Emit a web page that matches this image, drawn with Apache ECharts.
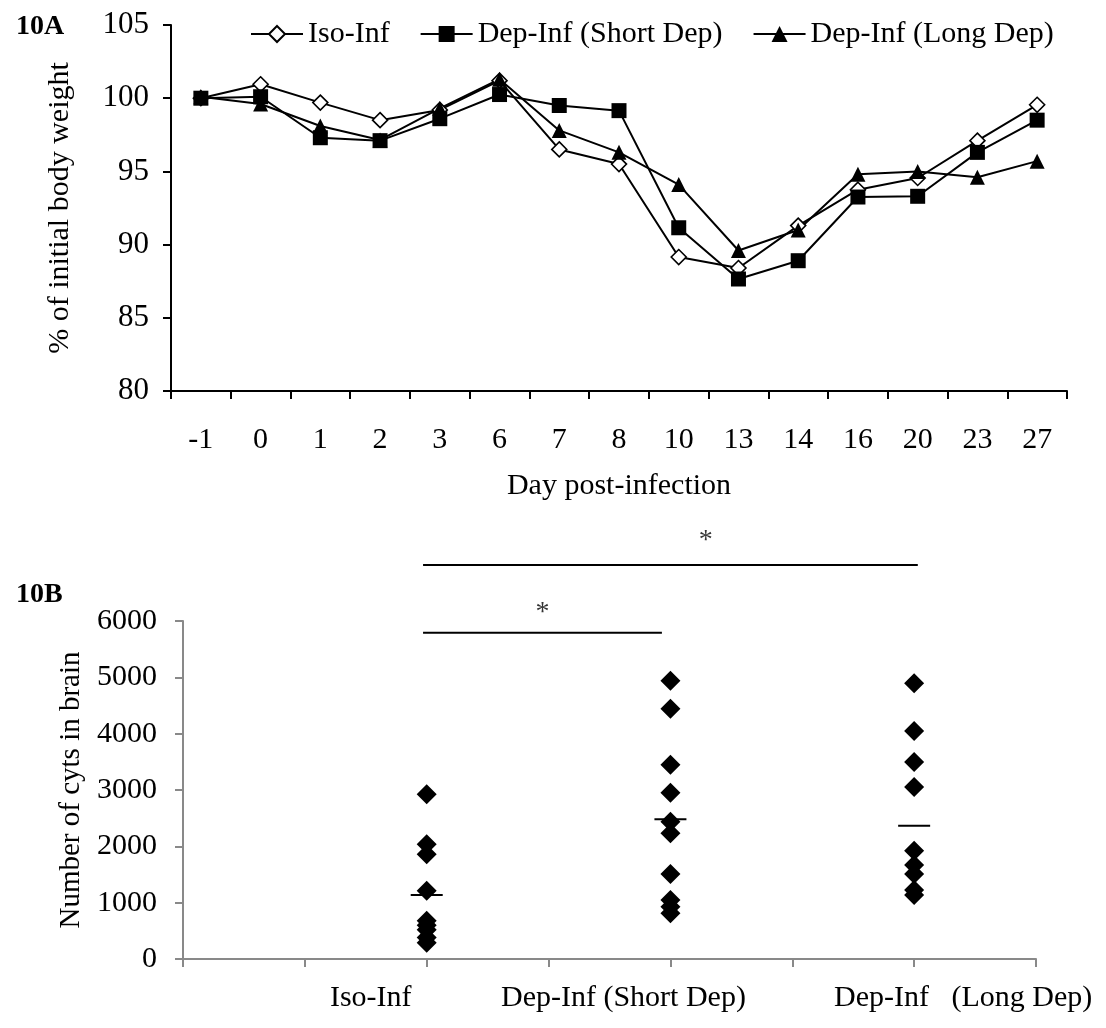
<!DOCTYPE html>
<html lang="en">
<head>
    <meta charset="UTF-8">
    <title>10A / 10B</title>
    <script src="https://cdn.jsdelivr.net/npm/echarts@6/dist/echarts.min.js"></script>
    <style>
        body { margin: 0; background: #fff; }
    </style>
</head>
<body>
    <div id="main" style="width: 1106px; height: 1028px;"></div>
</body>
</html>

<script>
    var FONT = "'Liberation Serif', 'Times New Roman', serif";

    // 10A - body weight
    var days = ['-1', '0', '1', '2', '3', '6', '7', '8', '10', '13', '14', '16', '20', '23', '27'];
    var isoInf = [100.0, 100.95, 99.7, 98.5, 99.2, 101.2, 96.5, 95.5, 89.15, 88.4, 91.3, 93.75, 94.55, 97.1, 99.55];
    var shortDep = [100.0, 100.1, 97.3, 97.1, 98.6, 100.25, 99.5, 99.15, 91.15, 87.65, 88.9, 93.25, 93.3, 96.3, 98.5];
    var longDep = [100.1, 99.6, 98.1, 97.15, 99.3, 101.3, 97.8, 96.3, 94.1, 89.6, 91.0, 94.8, 95.0, 94.6, 95.7];

    // 10B - cysts in brain (x position of each group on the 0..7 axis)
    var groupNames = ['Iso-Inf', 'Dep-Inf (Short Dep)', 'Dep-Inf   (Long Dep)'];
    var groupPos = [2, 4, 6];
    var cystsIso = [2923, 2035, 1858, 1210, 680, 600, 520, 380, 290];
    var cystsShort = [4941, 4444, 3450, 2953, 2438, 2231, 1509, 1047, 929, 811];
    var cystsLong = [4893, 4047, 3497, 3053, 1923, 1669, 1509, 1225, 1136];
    var cystsMean = [1136, 2479, 2367];

    // significance bars: [x from, x to, y]
    var sigBars = [[1.97, 3.93, 5790], [1.97, 6.03, 6994]];
    var sigStars = [[2.95, 6150], [4.29, 7430]];

    var myChart = echarts.init(document.getElementById('main'));

    function groupPoints(idx, values) {
        var out = [];
        for (var i = 0; i < values.length; i++) out.push([groupPos[idx], values[i]]);
        return out;
    }

    var meanPoints = [];
    for (var i = 0; i < cystsMean.length; i++) meanPoints.push([groupPos[i], cystsMean[i]]);

    var sigSeries = sigBars.map(function (b) {
        return {
            type: 'line', xAxisIndex: 1, yAxisIndex: 1, clip: false, silent: true,
            symbol: 'none', lineStyle: { color: '#000', width: 2 },
            data: [[b[0], b[2]], [b[1], b[2]]]
        };
    });

    var option = {
        animation: false,
        textStyle: { fontFamily: FONT, color: '#000' },
        title: [
            { text: '10A', left: 11, top: 8, textStyle: { fontFamily: FONT, fontSize: 28, fontWeight: 'bold', color: '#000' } },
            { text: '10B', left: 11, top: 576, textStyle: { fontFamily: FONT, fontSize: 28, fontWeight: 'bold', color: '#000' } }
        ],
        legend: {
            data: ['Iso-Inf', 'Dep-Inf (Short Dep)', 'Dep-Inf (Long Dep)'],
            left: 245, top: 14,
            itemWidth: 52, itemHeight: 20, itemGap: 30,
            textStyle: { fontFamily: FONT, fontSize: 30, color: '#000' }
        },
        grid: [
            { left: 171, right: 39, top: 25, height: 366 },
            { left: 183, right: 70, top: 621, height: 338 }
        ],
        xAxis: [
            {
                type: 'category', gridIndex: 0, data: days, boundaryGap: true,
                name: 'Day post-infection', nameLocation: 'middle', nameGap: 80,
                nameTextStyle: { fontFamily: FONT, fontSize: 30, color: '#000' },
                axisLine: { lineStyle: { color: '#000', width: 2 } },
                axisTick: { show: true, length: 8, lineStyle: { color: '#000', width: 2 } },
                axisLabel: { fontFamily: FONT, fontSize: 30, color: '#000', margin: 34, interval: 0 },
                splitLine: { show: false }
            },
            {
                type: 'value', gridIndex: 1, min: 0, max: 7, interval: 1,
                axisLine: { lineStyle: { color: '#898989', width: 2 } },
                axisTick: { show: true, length: 8, lineStyle: { color: '#898989', width: 2 } },
                axisLabel: {
                    fontFamily: FONT, fontSize: 30, color: '#000', margin: 24,
                    formatter: function (v) {
                        var k = groupPos.indexOf(v);
                        if (k < 0) return '';
                        return '{g' + k + '|' + groupNames[k] + '}';
                    },
                    rich: {
                        g0: { fontFamily: FONT, fontSize: 30, color: '#000', padding: [0, 112, 0, 0] },
                        g1: { fontFamily: FONT, fontSize: 30, color: '#000', padding: [0, 94, 0, 0] },
                        g2: { fontFamily: FONT, fontSize: 30, color: '#000', padding: [0, 0, 0, 98] }
                    }
                },
                splitLine: { show: false }
            }
        ],
        yAxis: [
            {
                type: 'value', gridIndex: 0, min: 80, max: 105, interval: 5,
                name: '% of initial body weight', nameLocation: 'middle', nameGap: 96,
                nameTextStyle: { fontFamily: FONT, fontSize: 30, color: '#000' },
                axisLine: { show: true, lineStyle: { color: '#000', width: 2 } },
                axisTick: { show: true, length: 8, lineStyle: { color: '#000', width: 2 } },
                axisLabel: { fontFamily: FONT, fontSize: 31, color: '#000', margin: 22 },
                splitLine: { show: false }
            },
            {
                type: 'value', gridIndex: 1, min: 0, max: 6000, interval: 1000,
                name: 'Number of cyts in brain', nameLocation: 'middle', nameGap: 84,
                nameTextStyle: { fontFamily: FONT, fontSize: 29, color: '#000' },
                axisLine: { show: true, lineStyle: { color: '#898989', width: 2 } },
                axisTick: { show: true, length: 8, lineStyle: { color: '#898989', width: 2 } },
                axisLabel: {
                    fontFamily: FONT, fontSize: 30, color: '#000', margin: 26,
                    formatter: function (v) { return String(v); }
                },
                splitLine: { show: false }
            }
        ],
        series: [
            {
                name: 'Iso-Inf', type: 'line', data: isoInf,
                symbol: 'diamond', symbolSize: 15,
                itemStyle: { color: '#fff', borderColor: '#000', borderWidth: 1.6 },
                lineStyle: { color: '#000', width: 2 }
            },
            {
                name: 'Dep-Inf (Short Dep)', type: 'line', data: shortDep,
                symbol: 'rect', symbolSize: 15,
                itemStyle: { color: '#000' },
                lineStyle: { color: '#000', width: 2 }
            },
            {
                name: 'Dep-Inf (Long Dep)', type: 'line', data: longDep,
                symbol: 'triangle', symbolSize: 15,
                itemStyle: { color: '#000' },
                lineStyle: { color: '#000', width: 2 }
            },
            {
                type: 'scatter', xAxisIndex: 1, yAxisIndex: 1, symbol: 'diamond', symbolSize: 20,
                itemStyle: { color: '#000', opacity: 1 }, data: groupPoints(0, cystsIso)
            },
            {
                type: 'scatter', xAxisIndex: 1, yAxisIndex: 1, symbol: 'diamond', symbolSize: 20,
                itemStyle: { color: '#000', opacity: 1 }, data: groupPoints(1, cystsShort)
            },
            {
                type: 'scatter', xAxisIndex: 1, yAxisIndex: 1, symbol: 'diamond', symbolSize: 20,
                itemStyle: { color: '#000', opacity: 1 }, data: groupPoints(2, cystsLong)
            },
            {
                type: 'scatter', xAxisIndex: 1, yAxisIndex: 1, symbol: 'rect', symbolSize: [32, 2],
                itemStyle: { color: '#000', opacity: 1 }, data: meanPoints, z: 5
            },
            sigSeries[0],
            sigSeries[1],
            {
                type: 'scatter', xAxisIndex: 1, yAxisIndex: 1, clip: false, silent: true,
                symbolSize: 0, data: sigStars,
                label: { show: true, position: 'inside', formatter: '*', fontFamily: FONT, fontSize: 28, color: '#000' }
            }
        ]
    };

    myChart.setOption(option);
</script>
